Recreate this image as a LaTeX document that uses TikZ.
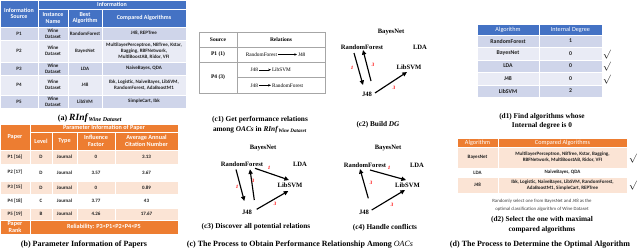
\documentclass[tikz,border=0pt]{standalone}
\usepackage{fontspec}
\setmainfont{Liberation Serif}
\newfontfamily\tabfont{Carlito}
\usetikzlibrary{arrows.meta,calc}
\definecolor{bhead}{HTML}{4472C4}
\definecolor{bdark}{HTML}{CFD5EA}
\definecolor{blight}{HTML}{E9EBF5}
\definecolor{ohead}{HTML}{ED7D31}
\definecolor{opink}{HTML}{FBE4D5}
\definecolor{tdark}{HTML}{202020}
\definecolor{grline}{HTML}{A6A6A6}
\definecolor{notegray}{HTML}{404040}
\definecolor{lblred}{HTML}{FF0000}
\newcommand\tcell[7]{\node[cellbase,#2,minimum width={(#5-#3)*1pt},minimum height={(#6-#4)*1pt}] (#1) at ({(#3+#5)/2},{(#4+#6)/2}) {#7};}
\newcommand\arow[7]{%
 \tcell{#1s}{#2}{0}{#3}{38}{#4}{#5}%
 \tcell{#1n}{#2}{38}{#3}{68}{#4}{Wine\\Dataset}%
 \tcell{#1b}{#2}{68}{#3}{102}{#4}{#6}%
 \tcell{#1c}{#2}{102}{#3}{186}{#4}{#7}}
\newcommand\brow[8]{%
 \tcell{#1p}{#2}{0}{#3}{30}{#4}{#5}%
 \tcell{#1l}{#2}{30}{#3}{52}{#4}{#6}%
 \tcell{#1t}{#2}{52}{#3}{77}{#4}{Journal}%
 \tcell{#1f}{#2}{77}{#3}{115}{#4}{#7}%
 \tcell{#1c}{#2}{115}{#3}{178}{#4}{#8}}
\begin{document}
\begin{tikzpicture}[x=1pt,y=-1pt,
 cellbase/.style={rectangle,inner sep=0pt,outer sep=0pt,align=center,draw=white,line width=0.6pt,text=tdark},
 tAhead/.style={fill=bhead,text=white,font=\tabfont\bfseries\fontsize{6}{6.6}\selectfont},
 tAdark/.style={fill=bdark,font=\tabfont\bfseries\fontsize{5}{6}\selectfont},
 tAlight/.style={fill=blight,font=\tabfont\bfseries\fontsize{5}{6}\selectfont},
 tBhead/.style={fill=ohead,text=white,font=\tabfont\bfseries\fontsize{6.2}{6.8}\selectfont},
 tBpink/.style={fill=opink,font=\tabfont\bfseries\fontsize{5}{6}\selectfont},
 tBwhite/.style={fill=white,font=\tabfont\bfseries\fontsize{5}{6}\selectfont},
 tDhead/.style={fill=bhead,text=white,font=\tabfont\fontsize{6.2}{7}\selectfont},
 tDdark/.style={fill=bdark,font=\tabfont\bfseries\fontsize{5.8}{6.5}\selectfont},
 tDlight/.style={fill=blight,font=\tabfont\bfseries\fontsize{5.8}{6.5}\selectfont},
 tEhead/.style={fill=ohead,text=white,font=\tabfont\fontsize{6.2}{7}\selectfont},
 tEpink/.style={fill=opink,font=\tabfont\bfseries\fontsize{5}{6}\selectfont},
 tEwhite/.style={fill=white,font=\tabfont\bfseries\fontsize{5}{6}\selectfont},
 tCcell/.style={draw=grline,fill=white,line width=0.5pt,text=black,font=\fontsize{5.5}{6.5}\selectfont},
 tChead/.style={tCcell,font=\bfseries\fontsize{5.5}{6.5}\selectfont},
 rel/.style={inner sep=0.8pt,font=\fontsize{5.3}{6}\selectfont},
 relarr/.style={-{Stealth[length=2.8pt,width=2.4pt]},line width=0.6pt},
 gn/.style={inner sep=0.5pt,font=\bfseries\fontsize{6.6}{7}\selectfont},
 garr/.style={-{Triangle[length=4.6pt,width=4.2pt]},line width=1.15pt},
 wl/.style={text=lblred,font=\bfseries\itshape\fontsize{5}{5.5}\selectfont,inner sep=0pt},
 subcap/.style={font=\bfseries\fontsize{7.3}{9.5}\selectfont,align=center,inner sep=0pt},
 bigcap/.style={font=\bfseries\fontsize{8}{9.5}\selectfont,align=center,inner sep=0pt},
 notetxt/.style={font=\tabfont\fontsize{4.8}{7.5}\selectfont,text=notegray,align=center,inner sep=0pt},
 ckm/.style={font=\fontsize{9}{10}\selectfont,inner sep=0pt}]
\useasboundingbox (0,0) rectangle (640,250);
% ---------- (a) ----------
\tcell{ah1}{tAhead}{0}{0}{38}{27}{Information\\Source}
\tcell{ah2}{tAhead}{38}{0}{186}{9}{Information}
\tcell{ah3}{tAhead}{38}{9}{68}{27}{Instance\\Name}
\tcell{ah4}{tAhead}{68}{9}{102}{27}{Best\\Algorithm}
\tcell{ah5}{tAhead}{102}{9}{186}{27}{Compared Algorithms}
\arow{ap1}{tAdark}{27}{40}{P1}{RandomForest}{J48, REPTree}
\arow{ap2}{tAlight}{40}{62}{P2}{BayesNet}{MultilayerPerceptron, NBTree, Kstar,\\Bagging, RBFNetwork,\\MultiBoostAB, Ridor, VFI}
\arow{ap3}{tAdark}{62}{75}{P3}{LDA}{NaiveBayes, QDA}
\arow{ap4}{tAlight}{75}{95}{P4}{J48}{Ibk, Logistic, NaiveBayes, LibSVM,\\RandomForest, AdaBoostM1}
\arow{ap5}{tAdark}{95}{108}{P5}{LibSVM}{SimpleCart, Ibk}
\node[bigcap] (capa) at (90,118) {(a) \textit{\fontsize{9.5}{10}\selectfont RInf}\textsubscript{\textit{Wine Dataset}}};
% ---------- (b) ----------
\tcell{bh1}{tBhead}{0}{124}{30}{150}{Paper}
\tcell{bh2}{tBhead}{30}{124}{178}{132}{Parameter Information of Paper}
\tcell{bh3}{tBhead}{30}{132}{52}{150}{Level}
\tcell{bh4}{tBhead}{52}{132}{77}{150}{Type}
\tcell{bh5}{tBhead}{77}{132}{115}{150}{Influence\\Factor}
\tcell{bh6}{tBhead}{115}{132}{178}{150}{Average Annual\\Citation Number}
\brow{bp1}{tBpink}{150}{164}{P1 [16]}{D}{0}{3.13}
\brow{bp2}{tBwhite}{164}{181}{P2 [17]}{D}{3.57}{3.67}
\brow{bp3}{tBpink}{181}{194}{P3 [15]}{D}{0}{0.89}
\brow{bp4}{tBwhite}{194}{208}{P4 [18]}{C}{3.77}{43}
\brow{bp5}{tBpink}{208}{220}{P5 [19]}{B}{4.26}{17.67}
\tcell{brk1}{tBhead}{0}{220}{30}{234}{Paper\\Rank}
\tcell{brk2}{tBhead}{30}{220}{178}{234}{Reliability: P3<P1<P2<P4<P5}
\node[bigcap] (capb) at (84,245) {(b) Parameter Information of Papers};
% ---------- (c1) ----------
\tcell{c1h1}{tChead}{199}{32}{237}{47}{Source}
\tcell{c1h2}{tChead}{237}{32}{325}{47}{Relations}
\tcell{c1s1}{tChead}{199}{47}{237}{62}{P1 (1)}
\tcell{c1r1}{tCcell}{237}{47}{325}{62}{}
\tcell{c1s2}{tChead}{199}{62}{237}{93}{P4 (3)}
\tcell{c1r2}{tCcell}{237}{62}{325}{77.5}{}
\tcell{c1r3}{tCcell}{237}{77.5}{325}{93}{}
\node[rel,anchor=east] (r1a) at (278,54.5) {RandomForest};
\node[rel,anchor=west] (r1b) at (297,54.5) {J48};
\draw[relarr] (r1a) -- (r1b);
\node[rel,anchor=east] (r2a) at (259,69.8) {J48};
\node[rel,anchor=west] (r2b) at (271,69.8) {LibSVM};
\draw[relarr] (r2a) -- (r2b);
\node[rel,anchor=east] (r3a) at (259,85.3) {J48};
\node[rel,anchor=west] (r3b) at (271,85.3) {RandomForest};
\draw[relarr] (r3a) -- (r3b);
\node[subcap] (capc1) at (260,124.5) {(c1) Get performance relations\\among \textit{OACs} in \textit{RInf}\textsubscript{\textit{Wine Dataset}}};
% ---------- (c2) ----------
\node[gn] (c2bn) at (391,32) {BayesNet};
\node[gn] (c2rf) at (362,47) {RandomForest};
\node[gn] (c2lda) at (420,47) {LDA};
\node[gn] (c2svm) at (409,67) {LibSVM};
\node[gn] (c2j) at (367,94) {J48};
\draw[garr] ($(c2rf)+(-8,6)$) -- ($(c2j)+(-4,-9)$);
\draw[garr] ($(c2j)+(4,-13)$) -- ($(c2rf)+(1,3)$);
\draw[garr] ($(c2j)+(8,-1)$) -- ($(c2svm)+(-2,5)$);
\node[wl] (c2w1) at (352,68) {1};
\node[wl] (c2w2) at (373,65) {3};
\node[wl] (c2w3) at (394,88) {3};
\node[subcap] (capc2) at (378,125) {(c2) Build \textit{DG}};
% ---------- (c3) ----------
\node[gn] (c3bn) at (263,148) {BayesNet};
\node[gn] (c3rf) at (242,164) {RandomForest};
\node[gn] (c3lda) at (300,164) {LDA};
\node[gn] (c3svm) at (290,185) {LibSVM};
\node[gn] (c3j) at (247,212) {J48};
\draw[garr] ($(c3rf)+(-6,5.5)$) -- ($(c3j)+(-2.7,-11)$);
\draw[garr] ($(c3j)+(7.3,-12)$) -- ($(c3rf)+(8,5.3)$);
\draw[garr] ($(c3rf)+(13,4.3)$) -- ($(c3svm)+(-1,-5)$);
\draw[garr] ($(c3j)+(9.7,-2.7)$) -- ($(c3svm)+(-1.7,6)$);
\node[wl] (c3w1) at (269,168) {1};
\node[wl] (c3w2) at (237,187) {1};
\node[wl] (c3w3) at (253,181) {3};
\node[wl] (c3w4) at (275,204) {3};
\node[subcap] (capc3) at (256,227) {(c3) Discover all potential relations};
% ---------- (c4) ----------
\node[gn] (c4bn) at (388,148) {BayesNet};
\node[gn] (c4rf) at (365,165) {RandomForest};
\node[gn] (c4lda) at (417,165) {LDA};
\node[gn] (c4svm) at (407.5,185) {LibSVM};
\node[gn] (c4j) at (364,212) {J48};
\draw[garr] ($(c4j)+(4.3,-13.7)$) -- ($(c4rf)+(-5,4)$);
\draw[garr] ($(c4rf)+(5,5)$) -- ($(c4svm)+(-1.5,-5)$);
\draw[garr] ($(c4j)+(7.7,-2)$) -- ($(c4svm)+(-2.5,5)$);
\node[wl] (c4w1) at (389,168) {1};
\node[wl] (c4w2) at (371,183) {3};
\node[wl] (c4w3) at (392,205) {3};
\node[subcap] (capc4) at (385,228) {(c4) Handle conflicts};
\node[bigcap] (capc) at (300,245) {(c) The Process to Obtain Performance Relationship Among \textmd{\textit{OACs}}};
% ---------- (d1) ----------
\tcell{dh1}{tDhead}{477}{24}{539}{35}{Algorithm}
\tcell{dh2}{tDhead}{539}{24}{602}{35}{Internal Degree}
\tcell{dr1a}{tDdark}{477}{35}{539}{47}{RandomForest}
\tcell{dr1b}{tDdark}{539}{35}{602}{47}{1}
\tcell{dr2a}{tDlight}{477}{47}{539}{60}{BayesNet}
\tcell{dr2b}{tDlight}{539}{47}{602}{60}{0}
\tcell{dr3a}{tDdark}{477}{60}{539}{72}{LDA}
\tcell{dr3b}{tDdark}{539}{60}{602}{72}{0}
\tcell{dr4a}{tDlight}{477}{72}{539}{85}{J48}
\tcell{dr4b}{tDlight}{539}{72}{602}{85}{0}
\tcell{dr5a}{tDdark}{477}{85}{539}{97}{LibSVM}
\tcell{dr5b}{tDdark}{539}{85}{602}{97}{2}
\node[ckm] (ck1) at (607,54.5) {$\surd$};
\node[ckm] (ck2) at (607,67) {$\surd$};
\node[ckm] (ck3) at (607,79.5) {$\surd$};
\node[subcap] (capd1) at (542,121.5) {(d1) Find algorithms whose\\Internal degree is 0};
% ---------- (d2) ----------
\tcell{eh1}{tEhead}{457}{138}{498}{147}{Algorithm}
\tcell{eh2}{tEhead}{498}{138}{627}{147}{Compared Algorithms}
\tcell{er1a}{tEpink}{457}{147}{498}{168}{BayesNet}
\tcell{er1b}{tEpink}{498}{147}{627}{168}{MultilayerPerceptron, NBTree, Kstar, Bagging,\\RBFNetwork, MultiBoostAB, Ridor, VFI}
\tcell{er2a}{tEwhite}{457}{168}{498}{177}{LDA}
\tcell{er2b}{tEwhite}{498}{168}{627}{177}{NaiveBayes, QDA}
\tcell{er3a}{tEpink}{457}{177}{498}{193}{J48}
\tcell{er3b}{tEpink}{498}{177}{627}{193}{Ibk, Logistic, NaiveBayes, LibSVM, RandomForest,\\AdaBoostM1, SimpleCart, REPTree}
\node[ckm] (ck4) at (633,159) {$\surd$};
\node[ckm] (ck5) at (633,186) {$\surd$};
\node[notetxt] (noted) at (542,205) {Randomly select one from BayesNet and J48 as the\\optimal classification algorithm of Wine Dataset};
\node[subcap] (capd2) at (542,225) {(d2) Select the one with maximal\\compared algorithms};
\node[bigcap] (capd) at (540,245) {(d) The Process to Determine the Optimal Algorithm};
\end{tikzpicture}
\end{document}
